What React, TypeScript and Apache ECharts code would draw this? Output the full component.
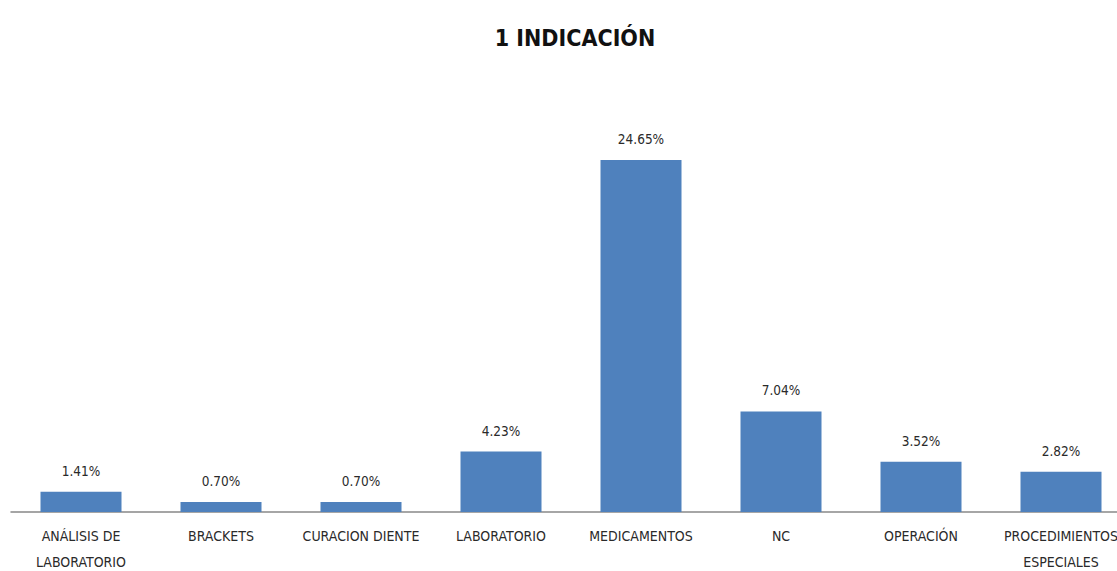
import React, { useEffect, useRef } from "react";
import * as echarts from "echarts";

const categories = [
  "ANÁLISIS DE\nLABORATORIO",
  "BRACKETS",
  "CURACION DIENTE",
  "LABORATORIO",
  "MEDICAMENTOS",
  "NC",
  "OPERACIÓN",
  "PROCEDIMIENTOS\nESPECIALES",
];
const values = [1.41, 0.7, 0.7, 4.23, 24.65, 7.04, 3.52, 2.82];
const titleText = "1 INDICACIÓN";

const FONT = "'Liberation Sans Narrow', 'DejaVu Sans Condensed', 'Liberation Sans', sans-serif";

export default function App() {
  const ref = useRef<HTMLDivElement>(null);
  useEffect(() => {
    if (!ref.current) return;
    const chart = echarts.init(ref.current, null, { renderer: "svg" });
    chart.setOption({
      animation: false,
      backgroundColor: "#ffffff",
      title: {
        text: titleText,
        left: 570,
        top: 21,
        textAlign: "center",
        textStyle: { fontFamily: FONT, fontSize: 23, fontWeight: "bold", color: "#111111" },
      },
      grid: {
        left: 11,
        width: 1120,
        top: 155,
        height: 357,
        containLabel: false,
        outerBoundsMode: "none",
      },
      xAxis: {
        type: "category",
        data: categories,
        axisTick: { show: false },
        axisLine: { lineStyle: { color: "#888888", width: 1.5 } },
        axisLabel: {
          interval: 0,
          margin: 11,
          fontFamily: FONT,
          fontSize: 14,
          lineHeight: 26,
          color: "#2a2a2a",
        },
      },
      yAxis: {
        type: "value",
        min: 0,
        max: 25,
        show: false,
        splitLine: { show: false },
      },
      series: [
        {
          type: "bar",
          data: values,
          barWidth: 81,
          itemStyle: { color: "#4F81BD" },
          label: {
            show: true,
            position: "top",
            distance: 14,
            fontFamily: FONT,
            fontSize: 13.5,
            color: "#2a2a2a",
            formatter: (p: any) => p.value.toFixed(2) + "%",
          },
        },
      ],
    });
    return () => chart.dispose();
  }, []);
  return <div ref={ref} style={{ width: 1117, height: 571, position: "fixed", left: 0, top: 0 }} />;
}
